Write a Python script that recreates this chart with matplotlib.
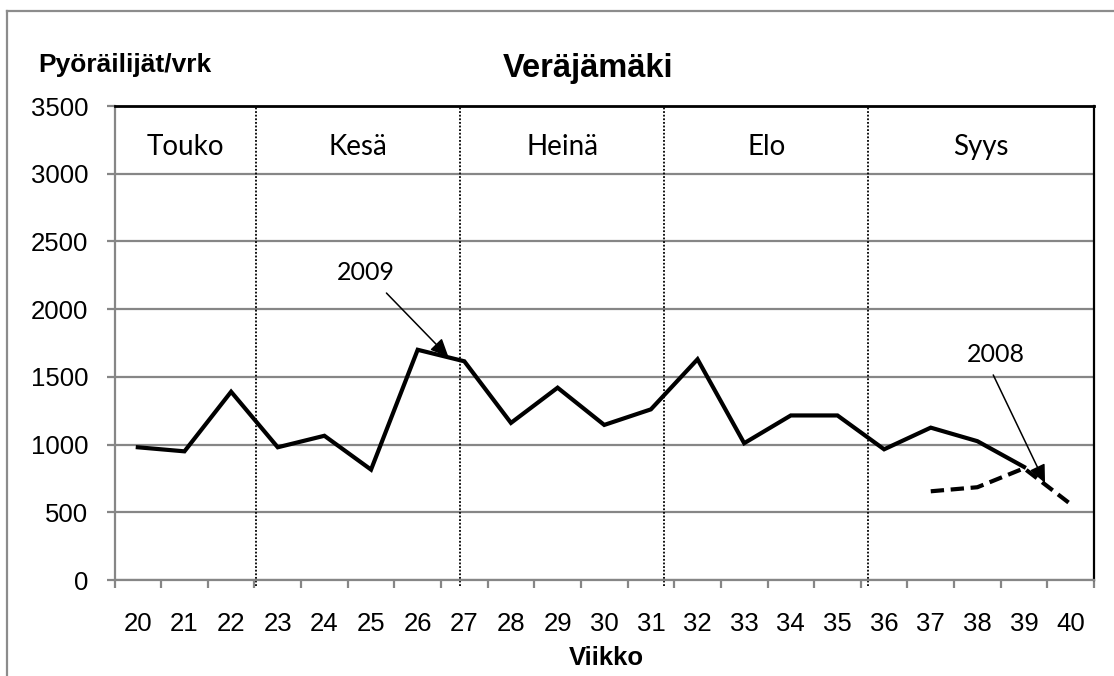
import matplotlib
matplotlib.use("Agg")
import matplotlib.pyplot as plt
from matplotlib.lines import Line2D
import numpy as np

# ---- data ----
weeks = list(range(20, 41))
weeks_2009 = list(range(20, 40))
values_2009 = [980, 950, 1390, 980, 1065, 815, 1700, 1615, 1160, 1420,
               1145, 1260, 1630, 1010, 1215, 1215, 965, 1125, 1025, 835]
weeks_2008 = [37, 38, 39, 40]
values_2008 = [655, 685, 825, 560]
month_names = ["Touko", "Kesä", "Heinä", "Elo", "Syys"]
month_bounds = [22.54, 26.91, 31.29, 35.66]
y_ticks = [0, 500, 1000, 1500, 2000, 2500, 3000, 3500]

W, H = 1114, 676
fig = plt.figure(figsize=(W / 100, H / 100), dpi=100)
fig.patch.set_facecolor("white")

L, R, T, B = 114.5, 1094, 106, 580
ax = fig.add_axes([L / W, 1 - B / H, (R - L) / W, (B - T) / H])
ax.set_facecolor("none")

GRID = "#868686"
ax.set_xlim(19.5, 40.5)
ax.set_ylim(0, 3500)

# gridlines
ax.set_yticks(y_ticks)
ax.yaxis.grid(True, color=GRID, linewidth=1.6)
ax.set_axisbelow(True)

# spines
ax.spines["left"].set_color(GRID)
ax.spines["left"].set_linewidth(1.6)
ax.spines["bottom"].set_color(GRID)
ax.spines["bottom"].set_linewidth(1.6)
ax.spines["top"].set_color("black")
ax.spines["top"].set_linewidth(2.0)
ax.spines["right"].set_color("black")
ax.spines["right"].set_linewidth(1.6)

# ticks
ax.set_xticks(weeks)
ax.set_xticklabels([str(w) for w in weeks], fontsize=18.5, family="Liberation Sans")
ax.set_xticks(np.arange(19.5, 41.0, 1.0), minor=True)
ax.tick_params(axis="x", which="major", length=0, pad=23)
ax.tick_params(axis="x", which="minor", length=6, width=1.6, color=GRID, direction="out")
ax.tick_params(axis="y", which="major", length=6, width=1.6, color=GRID, direction="out", pad=13,
               labelsize=18.5)
for lab in ax.get_yticklabels():
    lab.set_family("Liberation Sans")

# month separators
for mb in month_bounds:
    ax.plot([mb, mb], [-45, 3500], color="black", linewidth=1.3,
            linestyle=(0, (1, 1)), clip_on=False, zorder=2)

# month labels
edges = [19.5] + month_bounds + [40.5]
for i, name in enumerate(month_names):
    xc = (edges[i] + edges[i + 1]) / 2
    ax.text(xc, 3200, name, ha="center", va="center", fontsize=20, family="Lato")

# series
ax.plot(weeks_2009, values_2009, color="black", linewidth=3.0, solid_joinstyle="miter", zorder=4)
ax.plot(weeks_2008, values_2008, color="black", linewidth=3.0, dashes=(3.2, 1.6), zorder=4)

# annotations
arrowprops = dict(arrowstyle="-|>,head_length=1.1,head_width=0.5", color="black", linewidth=1.1,
                  shrinkA=0, shrinkB=0)
ax.annotate("", xy=(26.66, 1647), xytext=(25.33, 2119), arrowprops=arrowprops, zorder=5)
ax.text(24.89, 2271, "2009", ha="center", va="center", fontsize=18, family="Lato")
ax.annotate("", xy=(39.45, 716), xytext=(38.34, 1514), arrowprops=arrowprops, zorder=5)
ax.text(38.39, 1665, "2008", ha="center", va="center", fontsize=18, family="Lato")

# titles
fig.text(588 / W, 1 - 68 / H, "Veräjämäki", ha="center", va="center", fontsize=23.5,
         fontweight="bold", family="Liberation Sans")
fig.text(38 / W, 1 - 65 / H, "Pyöräilijät/vrk", ha="left", va="center", fontsize=19,
         fontweight="bold", family="Liberation Sans")
fig.text(606 / W, 1 - 658 / H, "Viikko", ha="center", va="center", fontsize=18.5,
         fontweight="bold", family="Liberation Sans")

# outer chart border
fig.add_artist(Line2D([6.5 / W, 1.0], [1 - 10.5 / H, 1 - 10.5 / H], color="#8c8c8c", linewidth=1.6,
                      transform=fig.transFigure))
fig.add_artist(Line2D([6.5 / W, 6.5 / W], [0, 1 - 10.5 / H], color="#8c8c8c", linewidth=1.6,
                      transform=fig.transFigure))

fig.savefig("out.png", dpi=100, facecolor="white")
